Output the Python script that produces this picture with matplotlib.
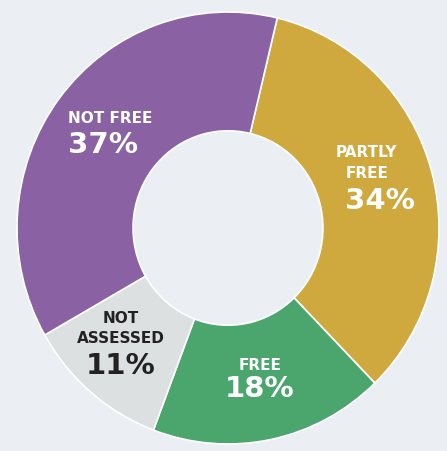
import matplotlib.pyplot as plt

# Datos del gráfico (sentido horario desde arriba)
labels = ['PARTLY\nFREE', 'FREE', 'NOT\nASSESSED', 'NOT FREE']
values = [34, 18, 11, 37]
colors = ['#CFA83E', '#4BA66D', '#DCE0E0', '#8A62A3']
bg = '#EBEEF3'

fig = plt.figure(figsize=(4.47, 4.51), dpi=100)
fig.patch.set_facecolor(bg)
ax = fig.add_axes([0, 0, 1, 1])
ax.set_facecolor(bg)

ax.pie(values, colors=colors, startangle=76.5, counterclock=False, radius=1,
       wedgeprops=dict(width=0.55, edgecolor='white', linewidth=1.2))

# la imagen original está un poco estirada en vertical
rx, ry = 211.0, 216.0
cx, cy = 228.0, 223.0  # centro en píxeles (desde abajo)
ax.set_aspect('auto')
ax.set_xlim(-cx / rx, (447 - cx) / rx)
ax.set_ylim(-cy / ry, (451 - cy) / ry)
ax.axis('off')


def px(x, y):
    # píxeles de la imagen -> datos
    return (x - cx) / rx, ((451 - y) - cy) / ry


font = 'DejaVu Sans'
white = 'white'
dark = '#222222'
small, big = 11, 21

# NOT FREE
ax.text(*px(68, 119), 'NOT FREE', ha='left', va='center', fontsize=small,
        fontweight='bold', color=white, family=font)
ax.text(*px(68, 145), '37%', ha='left', va='center', fontsize=big,
        fontweight='bold', color=white, family=font)

# PARTLY FREE
ax.text(*px(366, 153), 'PARTLY', ha='center', va='center', fontsize=small,
        fontweight='bold', color=white, family=font)
ax.text(*px(367, 174), 'FREE', ha='center', va='center', fontsize=small,
        fontweight='bold', color=white, family=font)
ax.text(*px(380, 201), '34%', ha='center', va='center', fontsize=big,
        fontweight='bold', color=white, family=font)

# NOT ASSESSED
ax.text(*px(121, 319), 'NOT', ha='center', va='center', fontsize=small,
        fontweight='bold', color=dark, family=font)
ax.text(*px(121, 339), 'ASSESSED', ha='center', va='center', fontsize=small,
        fontweight='bold', color=dark, family=font)
ax.text(*px(121, 366), '11%', ha='center', va='center', fontsize=big,
        fontweight='bold', color=dark, family=font)

# FREE
ax.text(*px(260, 366), 'FREE', ha='center', va='center', fontsize=small,
        fontweight='bold', color=white, family=font)
ax.text(*px(260, 389), '18%', ha='center', va='center', fontsize=big,
        fontweight='bold', color=white, family=font)

fig.savefig('out.png', dpi=100, facecolor=bg)
